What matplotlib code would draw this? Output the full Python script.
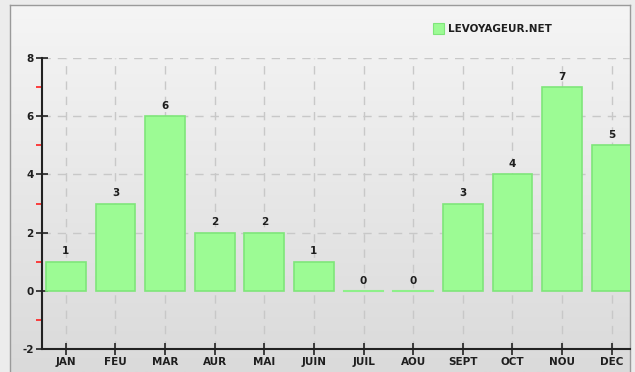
import matplotlib.pyplot as plt
import numpy as np

mois = ['JAN', 'FEU', 'MAR', 'AUR', 'MAI', 'JUIN', 'JUIL', 'AOU',
        'SEPT', 'OCT', 'NOU', 'DEC']
visites = [1, 3, 6, 2, 2, 1, 0, 0, 3, 4, 7, 5]
serie = 'LEVOYAGEUR.NET'

plt.rcParams['axes.unicode_minus'] = False

fig = plt.figure(figsize=(6.35, 3.72), dpi=100)
fig.patch.set_facecolor('#ececec')

# fond en degrade derriere le graphique
bg = fig.add_axes([10 / 635, 0, 620 / 635, 367 / 372])
grad = np.linspace(0, 1, 256).reshape(-1, 1)
bg.imshow(grad, aspect='auto', cmap=plt.matplotlib.colors.LinearSegmentedColormap.from_list(
    'g', ['#dadada', '#f5f5f5']), origin='lower', extent=[0, 1, 0, 1])
bg.set_xticks([])
bg.set_yticks([])
for s in bg.spines.values():
    s.set_color('#9a9a9a')
    s.set_linewidth(1)
bg.spines['bottom'].set_visible(False)

ax = fig.add_axes([42 / 635, 1 - 349 / 372, 588 / 635, 291 / 372])
ax.patch.set_alpha(0)
x = np.arange(len(mois))

ax.set_xlim(-0.48, 11.37)
ax.set_ylim(-2, 8)

for v in [2, 4, 6, 8]:
    ax.axhline(v, color='#c8c8c8', lw=1, ls=(0, (6, 5)), zorder=0)
for xi in x:
    ax.axvline(xi, color='#c8c8c8', lw=1, ls=(0, (6, 5)), zorder=0)

bars = ax.bar(x, visites, width=0.8, color='#9cfb94', edgecolor='#7fe67a',
              linewidth=1.2, zorder=2)
for xi, v in zip(x, visites):
    if v == 0:
        ax.plot([xi - 0.4, xi + 0.4], [0, 0], color='#8ef08a', lw=1.5, zorder=2)
    ax.text(xi, v + 0.18, str(v), ha='center', va='bottom', fontsize=7.5,
            fontweight='bold', color='#1e1e1e', zorder=3)

for side in ['top', 'right']:
    ax.spines[side].set_visible(False)
ax.spines['left'].set_linewidth(1.5)
ax.spines['bottom'].set_linewidth(1.5)
ax.spines['left'].set_color('#222222')
ax.spines['bottom'].set_color('#222222')

ax.set_yticks([-2, 0, 2, 4, 6, 8])
ax.set_yticks([-1, 1, 3, 5, 7], minor=True)
ax.tick_params(axis='y', which='major', direction='inout', length=8, width=1.2,
               color='#222222', labelsize=7.5, pad=2)
ax.tick_params(axis='y', which='minor', direction='out', length=4, width=1.2,
               color='#ff2020')
ax.set_xticks(x)
ax.set_xticklabels(mois)
ax.tick_params(axis='x', direction='inout', length=8, width=1.2,
               color='#222222', labelsize=7.5, pad=2)
for lab in ax.get_xticklabels() + ax.get_yticklabels():
    lab.set_fontweight('bold')
    lab.set_color('#1e1e1e')

# legende
fig.patches.append(plt.Rectangle((433 / 635, 1 - 34 / 372), 11 / 635, 11 / 372,
                                 transform=fig.transFigure, facecolor='#9cfb94',
                                 edgecolor='#7fe67a', lw=0.8))
fig.text(448 / 635, 1 - 28.5 / 372, serie, fontsize=7.5, fontweight='bold',
         color='#1e1e1e', va='center', ha='left')

fig.savefig('out.png', dpi=100)
